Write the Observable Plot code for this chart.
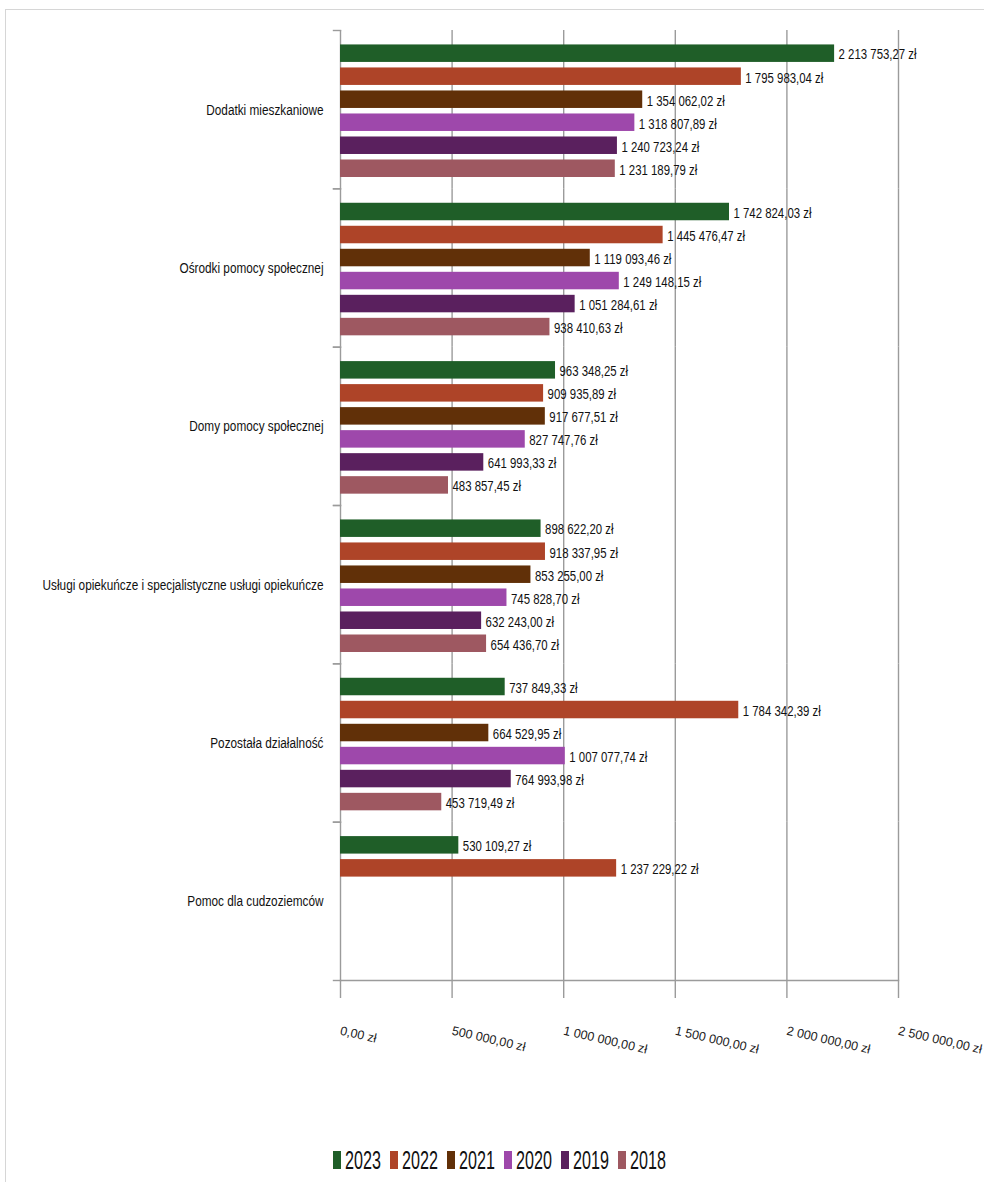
<!DOCTYPE html>
<html>
<head>
<meta charset="utf-8">
<script src="https://cdn.jsdelivr.net/npm/d3@7"></script>
<script src="https://cdn.jsdelivr.net/npm/@observablehq/plot@0.6"></script>
<style>
  html, body { margin: 0; padding: 0; background: #fff; }
  body { width: 984px; height: 1182px; position: relative; overflow: hidden;
         font-family: "Liberation Sans", Arial, sans-serif; }
  #frame { position: absolute; left: 5px; top: 9px; width: 1000px; height: 1200px;
           border-top: 1.5px solid #d6d6d6; border-left: 1.5px solid #d6d6d6; }
  #chart { position: absolute; left: 0; top: 0; }
  #legend { position: absolute; left: 333px; top: 1150px; display: flex; align-items: center;
            font-size: 26px; color: #111; height: 20px; }
  #legend .item { display: flex; align-items: center; margin-right: 9px; }
  #legend .sw { width: 8px; height: 18px; margin-right: 4px; }
  #legend .lab { display: inline-block; width: 36px; height: 20px; position: relative; }
  #legend .lab span { position: absolute; left: 0; top: 50%; transform: translateY(-50%) scaleX(0.62);
                      transform-origin: 0 50%; line-height: 1; white-space: nowrap; }
</style>
</head>
<body>
<div id="frame"></div>
<div id="chart"></div>
<div id="legend"></div>
<script>
const categories = [
  "Dodatki mieszkaniowe",
  "Ośrodki pomocy społecznej",
  "Domy pomocy społecznej",
  "Usługi opiekuńcze i specjalistyczne usługi opiekuńcze",
  "Pozostała działalność",
  "Pomoc dla cudzoziemców"
];
const years = ["2023", "2022", "2021", "2020", "2019", "2018"];
const values2023 = [2213753.27, 1742824.03, 963348.25, 898622.20, 737849.33, 530109.27];
const values2022 = [1795983.04, 1445476.47, 909935.89, 918337.95, 1784342.39, 1237229.22];
const values2021 = [1354062.02, 1119093.46, 917677.51, 853255.00, 664529.95, null];
const values2020 = [1318807.89, 1249148.15, 827747.76, 745828.70, 1007077.74, null];
const values2019 = [1240723.24, 1051284.61, 641993.33, 632243.00, 764993.98, null];
const values2018 = [1231189.79, 938410.63, 483857.45, 654436.70, 453719.49, null];
const yearColors = ["#1f5e28", "#ae4428", "#613008", "#9e48ab", "#5a205e", "#9e5861"];
const xTicks = [0, 500000, 1000000, 1500000, 2000000, 2500000];
const xTickLabels = ["0,00 zł", "500 000,00 zł", "1 000 000,00 zł", "1 500 000,00 zł", "2 000 000,00 zł", "2 500 000,00 zł"];

const seriesByYear = [values2023, values2022, values2021, values2020, values2019, values2018];
const rows = [];
years.forEach((yr, yi) => {
  categories.forEach((cat, ci) => {
    const v = seriesByYear[yi][ci];
    if (v != null) rows.push({category: cat, year: yr, value: v});
  });
});

const pl = d3.formatLocale({decimal: ",", thousands: " ", grouping: [3], currency: ["", " zł"]});
const fmt = pl.format("$,.2f");

const FONT = '"Liberation Sans", Arial, sans-serif';
const gridColor = "#9b9b9b";

const chart = Plot.plot({
  width: 984,
  height: 1070,
  marginLeft: 340,
  marginRight: 86,
  marginTop: 30,
  marginBottom: 90,
  style: {fontFamily: FONT, fontSize: "13px", color: "#111", background: "transparent"},
  x: {domain: [0, 2500000], axis: null},
  y: {domain: years, axis: null, paddingInner: 0.24, paddingOuter: 0.56, align: 0.56, round: false},
  fy: {domain: categories, padding: 0, axis: null, round: false},
  color: {domain: years, range: yearColors},
  marks: [
    Plot.gridX(xTicks, {stroke: gridColor, strokeOpacity: 1, strokeWidth: 1.4}),
    Plot.frame({anchor: "top", stroke: gridColor, strokeWidth: 1.4, insetLeft: -7, insetRight: 558}),
    Plot.frame({anchor: "bottom", stroke: gridColor, strokeWidth: 1.4, insetLeft: -7, insetRight: 558}),
    Plot.frame({anchor: "bottom", stroke: gridColor, strokeWidth: 1.4, fy: [categories[categories.length - 1]]}),
    Plot.barX(rows, {x: "value", y: "year", fy: "category", fill: "year"}),
    Plot.text(rows, {x: "value", y: "year", fy: "category", text: d => fmt(d.value),
      textAnchor: "start", dx: 4, dy: 1, fill: "#111", fontSize: 15}),
    Plot.axisFy({anchor: "left", tickSize: 0, tickPadding: 17, fontSize: 15.5, label: null, fill: "#111"}),
    Plot.axisX({ticks: xTicks, tickFormat: (d) => xTickLabels[xTicks.indexOf(d)], tickSize: 18,
      tickPadding: 32, tickRotate: 13, textAnchor: "start", stroke: gridColor, strokeWidth: 1.4,
      fill: "#222", fontSize: 12.5, label: null})
  ]
});
document.getElementById("chart").appendChild(chart);

// Condense the value and category texts horizontally (the reference uses a narrow face)
const xLabelTexts = new Set(chart.querySelectorAll('g[aria-label="x-axis tick label"] text'));
chart.querySelectorAll("text").forEach(t => {
  if (xLabelTexts.has(t)) return;
  const L = t.getComputedTextLength();
  if (L > 0) {
    t.setAttribute("textLength", (L * 0.76).toFixed(2));
    t.setAttribute("lengthAdjust", "spacingAndGlyphs");
  }
});

const legend = document.getElementById("legend");
years.forEach((yr, i) => {
  const item = document.createElement("div");
  item.className = "item";
  const sw = document.createElement("div");
  sw.className = "sw";
  sw.style.background = yearColors[i];
  const lab = document.createElement("div");
  lab.className = "lab";
  const s = document.createElement("span");
  s.textContent = yr;
  lab.appendChild(s);
  item.appendChild(sw);
  item.appendChild(lab);
  legend.appendChild(item);
});
</script>
</body>
</html>
